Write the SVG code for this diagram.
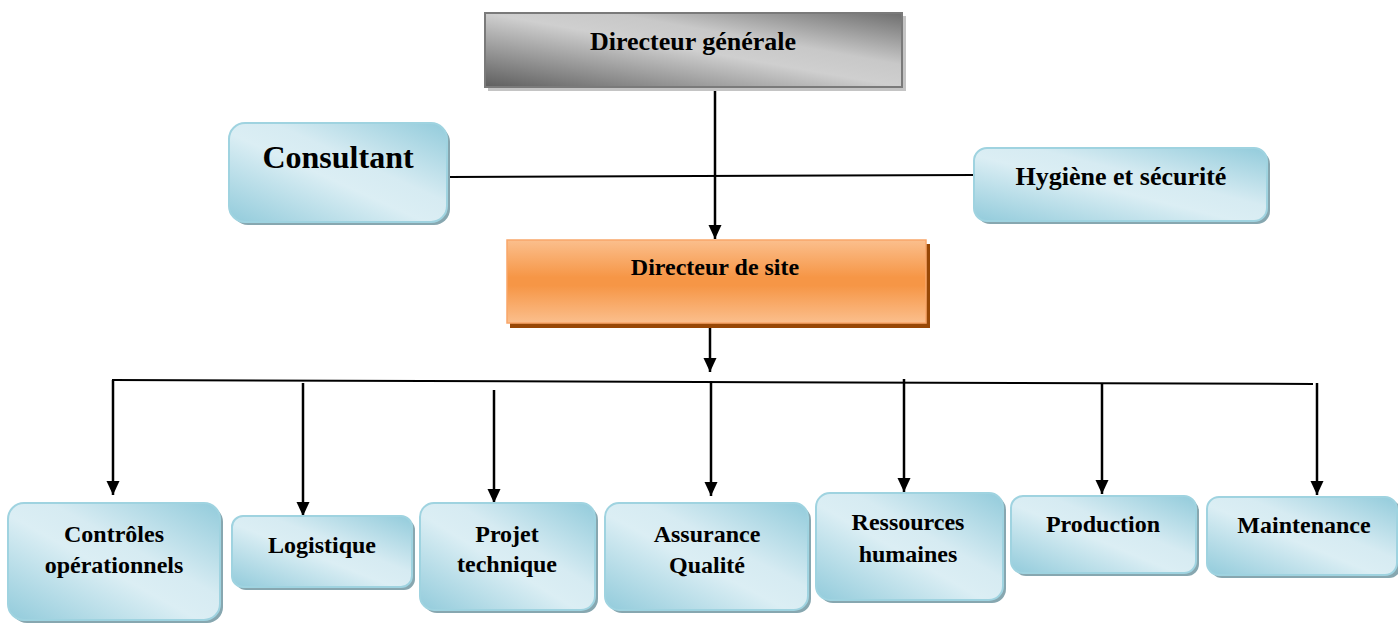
<svg xmlns="http://www.w3.org/2000/svg" width="1398" height="623" viewBox="0 0 1398 623">
<defs>
<linearGradient id="gBlue" x1="0" y1="1" x2="1" y2="0">
<stop offset="0" stop-color="#92cbdb"/>
<stop offset="0.45" stop-color="#dbeef4"/>
<stop offset="0.6" stop-color="#d6ebf2"/>
<stop offset="1" stop-color="#92cbdb"/>
</linearGradient>
<linearGradient id="gGray" x1="0" y1="1" x2="1" y2="0">
<stop offset="0" stop-color="#5e5e5e"/>
<stop offset="0.5" stop-color="#cfcfcf"/>
<stop offset="0.65" stop-color="#c8c8c8"/>
<stop offset="1" stop-color="#6e6e6e"/>
</linearGradient>
<linearGradient id="gOrange" x1="0" y1="0" x2="0" y2="1">
<stop offset="0" stop-color="#fbbf8d"/>
<stop offset="0.45" stop-color="#f69646"/>
<stop offset="0.55" stop-color="#f69646"/>
<stop offset="1" stop-color="#fbbf8d"/>
</linearGradient>
<marker id="arr" markerUnits="userSpaceOnUse" markerWidth="14" markerHeight="16" refX="14" refY="6.5" orient="auto" viewBox="0 0 14 13">
<path d="M0,0 L14,6.5 L0,13 Z" fill="#000"/>
</marker>
</defs>
<style>
.shB{fill:#87a7b0}
.bx{fill:url(#gBlue);stroke:#9fd3e0;stroke-width:2}
.t{font-family:"Liberation Serif","Times New Roman",serif;font-weight:bold;fill:#000;text-anchor:middle}
.t24{font-size:24px}
.ln{stroke:#000;stroke-width:2;fill:none}
.ar{stroke:#000;stroke-width:2.5;fill:none;marker-end:url(#arr)}
</style>

<g id="connectors">
<line class="ln" x1="450" y1="177" x2="974" y2="175"/>
<line class="ar" x1="715" y1="87" x2="715" y2="239"/>
<line class="ar" x1="710" y1="322" x2="710" y2="372"/>
<line class="ln" x1="112" y1="380" x2="1313" y2="384"/>
<line class="ar" x1="113" y1="380" x2="113" y2="495"/>
<line class="ar" x1="303" y1="383" x2="303" y2="516"/>
<line class="ar" x1="494" y1="390" x2="494" y2="503"/>
<line class="ar" x1="711" y1="381" x2="711" y2="496"/>
<line class="ar" x1="904" y1="379" x2="904" y2="492"/>
<line class="ar" x1="1102" y1="383" x2="1102" y2="494"/>
<line class="ar" x1="1317" y1="383" x2="1317" y2="495"/>
</g>

<g id="directeur-generale">
<rect x="488" y="16" width="418" height="75" fill="#c4c4c4"/>
<rect x="485" y="13" width="417" height="74" fill="url(#gGray)" stroke="#7a7a7a" stroke-width="2"/>
<text class="t" x="693" y="50" font-size="26">Directeur générale</text>
</g>

<g id="consultant">
<rect class="shB" x="232" y="126" width="218" height="99" rx="16"/>
<rect class="bx" x="229" y="123" width="218" height="99" rx="16"/>
<text class="t" x="338" y="168" font-size="32">Consultant</text>
</g>

<g id="hygiene">
<rect class="shB" x="977" y="151" width="293" height="73" rx="13"/>
<rect class="bx" x="974" y="148" width="293" height="73" rx="13"/>
<text class="t" x="1121" y="185" font-size="26">Hygiène et sécurité</text>
</g>

<g id="directeur-site">
<rect x="510" y="244" width="420" height="84" fill="#984806"/>
<rect x="507" y="240" width="419" height="83" fill="url(#gOrange)" stroke="#f9a66a" stroke-width="1.5"/>
<text class="t t24" x="715" y="275">Directeur de site</text>
</g>

<g id="controles">
<rect class="shB" x="11" y="506" width="212" height="117" rx="16"/>
<rect class="bx" x="8" y="503" width="212" height="117" rx="16"/>
<text class="t t24" x="114" y="542">Contrôles</text>
<text class="t t24" x="114" y="573">opérationnels</text>
</g>

<g id="logistique">
<rect class="shB" x="235" y="519" width="180" height="71" rx="11"/>
<rect class="bx" x="232" y="516" width="180" height="71" rx="11"/>
<text class="t t24" x="322" y="553">Logistique</text>
</g>

<g id="projet">
<rect class="shB" x="423" y="506" width="175" height="107" rx="14"/>
<rect class="bx" x="420" y="503" width="175" height="107" rx="14"/>
<text class="t t24" x="507" y="542">Projet</text>
<text class="t t24" x="507" y="572">technique</text>
</g>

<g id="assurance">
<rect class="shB" x="608" y="506" width="203" height="107" rx="14"/>
<rect class="bx" x="605" y="503" width="203" height="107" rx="14"/>
<text class="t t24" x="707" y="542">Assurance</text>
<text class="t t24" x="707" y="573">Qualité</text>
</g>

<g id="ressources">
<rect class="shB" x="819" y="496" width="187" height="107" rx="14"/>
<rect class="bx" x="816" y="493" width="187" height="107" rx="14"/>
<text class="t t24" x="908" y="530">Ressources</text>
<text class="t t24" x="908" y="562">humaines</text>
</g>

<g id="production">
<rect class="shB" x="1014" y="499" width="185" height="77" rx="12"/>
<rect class="bx" x="1011" y="496" width="185" height="77" rx="12"/>
<text class="t t24" x="1103" y="532">Production</text>
</g>

<g id="maintenance">
<rect class="shB" x="1210" y="500" width="191" height="78" rx="12"/>
<rect class="bx" x="1207" y="497" width="190" height="78" rx="12"/>
<text class="t t24" x="1304" y="533">Maintenance</text>
</g>
</svg>
